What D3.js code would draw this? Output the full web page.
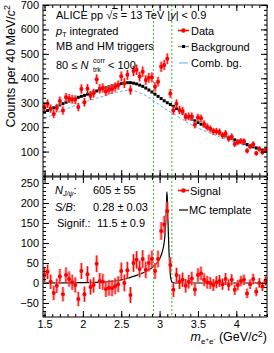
<!DOCTYPE html>
<html>
<head>
<meta charset="utf-8">
<script src="https://cdn.jsdelivr.net/npm/d3@7"></script>
<style>
  body { margin: 0; background: #fff; }
  text { font-family: "Liberation Sans", Arial, sans-serif; fill: #000; }
</style>
</head>
<body>
<svg id="chart" width="274" height="353"></svg>
<script>
// bin centres, 40 MeV/c2 bins from 1.48 to 4.40
var massBins = [1.50, 1.54, 1.58, 1.62, 1.66, 1.70, 1.74, 1.78, 1.82, 1.86, 1.90, 1.94,
    1.98, 2.02, 2.06, 2.10, 2.14, 2.18, 2.22, 2.26, 2.30, 2.34, 2.38, 2.42, 2.46, 2.50,
    2.54, 2.58, 2.62, 2.66, 2.70, 2.74, 2.78, 2.82, 2.86, 2.90, 2.94, 2.98, 3.02, 3.06,
    3.10, 3.14, 3.18, 3.22, 3.26, 3.30, 3.34, 3.38, 3.42, 3.46, 3.50, 3.54, 3.58, 3.62,
    3.66, 3.70, 3.74, 3.78, 3.82, 3.86, 3.90, 3.94, 3.98, 4.02, 4.06, 4.10, 4.14, 4.18,
    4.22, 4.26, 4.30, 4.34, 4.38];

var dataCounts = [282, 296, 276, 254, 278, 307, 268, 322, 317, 314, 312, 282,
    356, 302, 357, 329, 339, 396, 357, 360, 346, 353, 356, 364, 372, 408,
    380, 414, 352, 430, 435, 407, 427, 393, 402, 404, 365, 386, 447, 454,
    480, 338, 268, 296, 270, 266, 242, 244, 244, 210, 239, 236, 213, 201,
    193, 182, 183, 180, 166, 174, 153, 161, 131, 138, 143, 142, 103, 121,
    130, 93, 111, 97, 107];

var dataErr = [17, 17, 17, 17, 17, 18, 17, 18, 18, 18, 18, 17,
    19, 18, 19, 18, 18, 20, 19, 19, 19, 19, 19, 19, 19, 20,
    20, 20, 19, 21, 21, 20, 21, 20, 20, 20, 19, 20, 21, 21,
    22, 18, 17, 17, 17, 17, 16, 16, 16, 15, 16, 16, 15, 15,
    14, 14, 14, 14, 13, 14, 13, 13, 12, 12, 12, 12, 11, 11,
    12, 10, 11, 10, 10];

var bkgCounts = [262, 268, 273, 279, 285, 291, 296, 302, 307, 312, 317, 322,
    326, 330, 335, 339, 344, 348, 352, 357, 361, 365, 369, 372, 375, 378,
    380, 382, 382, 380, 377, 372, 367, 360, 352, 344, 335, 326, 317, 308,
    300, 293, 285, 276, 267, 258, 249, 241, 233, 226, 219, 212, 205, 199,
    193, 187, 181, 175, 169, 164, 158, 153, 148, 143, 138, 134, 129, 124,
    120, 115, 111, 106, 102];

var combCounts = [236, 242, 247, 253, 258, 264, 269, 274, 279, 284, 289, 293,
    297, 301, 306, 310, 314, 318, 322, 326, 330, 334, 338, 341, 344, 347,
    349, 351, 351, 349, 346, 341, 336, 329, 321, 313, 304, 295, 286, 277,
    269, 262, 255, 247, 239, 231, 223, 216, 209, 203, 197, 191, 185, 180,
    175, 170, 165, 160, 155, 151, 146, 142, 138, 134, 130, 126, 122, 118,
    114, 110, 106, 101, 97];

var signalCounts = [20, 28, 3, -25, -7, 16, -28, 20, 10, 2, -5, -40,
    30, -28, 22, -10, -5, 48, 5, 3, -15, -12, -13, -8, -3, 30,
    0, 32, -30, 50, 58, 35, 60, 33, 50, 60, 30, 60, 130, 146,
    180, 45, -17, 20, 3, 8, -7, 3, 11, -16, 20, 24, 8, 2,
    0, -5, 2, 5, -3, 10, -5, 8, -17, -5, 5, 8, -26, -3,
    10, -22, 0, -9, 5];

var signalErr = [18, 18, 18, 18, 18, 19, 18, 19, 19, 19, 19, 18,
    20, 19, 20, 19, 19, 21, 20, 20, 20, 20, 20, 20, 20, 21,
    21, 21, 20, 22, 22, 21, 22, 21, 21, 21, 20, 21, 22, 22,
    23, 19, 18, 18, 18, 18, 17, 17, 17, 16, 17, 17, 16, 16,
    15, 15, 15, 15, 14, 15, 14, 14, 13, 13, 13, 13, 12, 12,
    13, 11, 12, 11, 11];

// MC line shape (mass, counts)
var mcMass = [1.48, 2.0, 2.3, 2.5, 2.6, 2.7, 2.8, 2.9, 2.95, 3.0, 3.03, 3.05, 3.07,
    3.08, 3.09, 3.095, 3.10, 3.11, 3.12, 3.13, 3.14, 3.15, 3.17, 3.2, 4.4];
var mcCounts = [0, 1, 3, 8, 13, 19, 27, 38, 47, 60, 75, 90, 120,
    150, 200, 228, 215, 150, 90, 45, 20, 8, 1, 0, 0];

var windowEdges = [2.92, 3.16];

var topTicks = [100, 200, 300, 400, 500, 600, 700];
var botTicks = [-50, 0, 50, 100, 150, 200, 250];
var xTicks = [1.5, 2, 2.5, 3, 3.5, 4];

var svg = d3.select("#chart");
var left = 43, right = 267;
var topPad = { y0: 5, y1: 176 }, botPad = { y0: 177, y1: 317 };

var x = d3.scaleLinear().domain([1.48, 4.40]).range([left, right]);
var yTop = d3.scaleLinear().domain([0, 700]).range([topPad.y1, topPad.y0]);
var yBot = d3.scaleLinear().domain([-85, 265]).range([botPad.y1, botPad.y0]);

var red = "#ff0000", green = "#33bb33", blue = "#66aaee";

function frameAxes(y, pad, majors, minorStep, showX) {
    var yMin = d3.range(Math.ceil(y.domain()[0] / minorStep) * minorStep, y.domain()[1] + 0.01, minorStep);
    var xMin = d3.range(1.5, 4.41, 0.1);
    var g = svg.append("g");
    g.append("g").attr("transform", "translate(" + left + ",0)")
        .call(d3.axisLeft(y).tickValues(majors).tickSize(-6).tickPadding(4).tickFormat(d3.format("d")));
    g.append("g").attr("transform", "translate(" + left + ",0)")
        .call(d3.axisLeft(y).tickValues(yMin).tickSize(-3).tickFormat(""));
    g.append("g").attr("transform", "translate(" + right + ",0)")
        .call(d3.axisRight(y).tickValues(majors).tickSize(-6).tickFormat(""));
    g.append("g").attr("transform", "translate(" + right + ",0)")
        .call(d3.axisRight(y).tickValues(yMin).tickSize(-3).tickFormat(""));
    g.append("g").attr("transform", "translate(0," + pad.y1 + ")")
        .call(d3.axisBottom(x).tickValues(xTicks).tickSize(-6).tickPadding(3)
            .tickFormat(showX ? d3.format("") : ""));
    g.append("g").attr("transform", "translate(0," + pad.y1 + ")")
        .call(d3.axisBottom(x).tickValues(xMin).tickSize(-3).tickFormat(""));
    g.append("g").attr("transform", "translate(0," + pad.y0 + ")")
        .call(d3.axisTop(x).tickValues(xTicks).tickSize(-6).tickFormat(""));
    g.append("g").attr("transform", "translate(0," + pad.y0 + ")")
        .call(d3.axisTop(x).tickValues(xMin).tickSize(-3).tickFormat(""));
    g.selectAll(".domain").remove();
    g.selectAll("text").attr("font-size", 11).style("font-family", "'Liberation Sans', Arial, sans-serif");
    g.append("rect").attr("x", left).attr("y", pad.y0)
        .attr("width", right - left).attr("height", pad.y1 - pad.y0)
        .attr("fill", "none").attr("stroke", "#000");
}

function windowLines(pad) {
    svg.selectAll(null).data(windowEdges).enter().append("line")
        .attr("x1", d => x(d)).attr("x2", d => x(d))
        .attr("y1", pad.y0).attr("y2", pad.y1)
        .attr("stroke", green).attr("stroke-width", 1).attr("stroke-dasharray", "2,2");
}

function redPoints(values, errs, y) {
    var g = svg.append("g");
    var pts = massBins.map((m, i) => ({ m: m, v: values[i], e: errs[i] }));
    g.selectAll("rect.band").data(pts).enter().append("rect")
        .attr("x", d => x(d.m) - 1.5).attr("width", 3)
        .attr("y", d => y(d.v + d.e)).attr("height", d => y(d.v - d.e) - y(d.v + d.e))
        .attr("fill", "#ff8080").attr("opacity", 0.7);
    g.selectAll("line.err").data(pts).enter().append("line")
        .attr("x1", d => x(d.m)).attr("x2", d => x(d.m))
        .attr("y1", d => y(d.v + d.e)).attr("y2", d => y(d.v - d.e))
        .attr("stroke", red).attr("stroke-width", 1);
    g.selectAll("circle").data(pts).enter().append("circle")
        .attr("cx", d => x(d.m)).attr("cy", d => y(d.v)).attr("r", 2)
        .attr("fill", red);
}

// ---- top panel ----
windowLines(topPad);

svg.append("path").datum(massBins.map((m, i) => [m, combCounts[i]]))
    .attr("d", d3.line().x(d => x(d[0])).y(d => yTop(d[1])))
    .attr("fill", "none").attr("stroke", blue).attr("stroke-width", 1)
    .attr("stroke-dasharray", "3,2");

svg.append("g").selectAll("rect").data(massBins.map((m, i) => [m, bkgCounts[i]]))
    .enter().append("rect")
    .attr("x", d => x(d[0]) - 1.5).attr("y", d => yTop(d[1]) - 1.5)
    .attr("width", 3).attr("height", 3).attr("fill", "#000");

redPoints(dataCounts, dataErr, yTop);
frameAxes(yTop, topPad, topTicks, 20, false);

// ---- bottom panel ----
windowLines(botPad);
svg.append("path").datum(mcMass.map((m, i) => [m, mcCounts[i]]))
    .attr("d", d3.line().curve(d3.curveMonotoneX).x(d => x(d[0])).y(d => yBot(d[1])))
    .attr("fill", "none").attr("stroke", "#000").attr("stroke-width", 1.2);
redPoints(signalCounts, signalErr, yBot);
frameAxes(yBot, botPad, botTicks, 10, true);

// ---- axis titles ----
var yt = svg.append("text").attr("transform", "translate(15,5) rotate(-90)")
    .attr("text-anchor", "end").attr("font-size", 12.5);
yt.append("tspan").text("Counts per 40 MeV/");
yt.append("tspan").attr("font-style", "italic").text("c");
yt.append("tspan").attr("font-size", 9).attr("dy", -5).text("2");

var xt = svg.append("text").attr("x", right).attr("y", 341)
    .attr("text-anchor", "end").attr("font-size", 12.5);
xt.append("tspan").attr("font-style", "italic").text("m");
xt.append("tspan").attr("font-size", 8).attr("dy", 3).text("e");
xt.append("tspan").attr("font-size", 6).attr("dy", -3).text("+");
xt.append("tspan").attr("font-size", 8).attr("dy", 3).text("e");
xt.append("tspan").attr("font-size", 6).attr("dy", -3).text("-");
xt.append("tspan").attr("dy", 0).text(" (GeV/");
xt.append("tspan").attr("font-style", "italic").text("c");
xt.append("tspan").attr("font-size", 9).attr("dy", -4).text("2");
xt.append("tspan").attr("dy", 4).text(")");

// ---- top texts ----
var t1 = svg.append("text").attr("x", 56).attr("y", 19).attr("font-size", 11);
t1.append("tspan").text("ALICE pp ");
t1.append("tspan").text("\u221A");
t1.append("tspan").attr("font-style", "italic").attr("text-decoration", "overline").text("s");
t1.append("tspan").text(" = 13 TeV |");
t1.append("tspan").attr("font-style", "italic").text("y");
t1.append("tspan").text("| < 0.9");

var t2 = svg.append("text").attr("x", 56).attr("y", 35).attr("font-size", 11);
t2.append("tspan").attr("font-style", "italic").text("p");
t2.append("tspan").attr("font-size", 7).attr("dy", 2).text("T");
t2.append("tspan").attr("dy", -2).text(" integrated");

svg.append("text").attr("x", 56).attr("y", 50).attr("font-size", 11).text("MB and HM triggers");

var t4 = svg.append("text").attr("x", 56).attr("y", 69).attr("font-size", 11);
t4.append("tspan").text("80 \u2264 ");
t4.append("tspan").attr("font-style", "italic").text("N");
svg.append("text").attr("x", 93).attr("y", 72).attr("font-size", 7).text("trk");
svg.append("text").attr("x", 93).attr("y", 63).attr("font-size", 7).text("corr");
svg.append("text").attr("x", 108).attr("y", 69).attr("font-size", 11).text("< 100");

// legend top
svg.append("line").attr("x1", 178).attr("x2", 189).attr("y1", 30.5).attr("y2", 30.5)
    .attr("stroke", red).attr("stroke-width", 1.5);
svg.append("circle").attr("cx", 183.5).attr("cy", 30.5).attr("r", 2.2).attr("fill", red);
svg.append("text").attr("x", 191).attr("y", 34.5).attr("font-size", 11).text("Data");
svg.append("line").attr("x1", 178).attr("x2", 189).attr("y1", 46.5).attr("y2", 46.5)
    .attr("stroke", "#888").attr("stroke-width", 1.5);
svg.append("rect").attr("x", 182).attr("y", 45).attr("width", 3).attr("height", 3).attr("fill", "#000");
svg.append("text").attr("x", 191).attr("y", 50.5).attr("font-size", 11).text("Background");
svg.append("line").attr("x1", 179).attr("x2", 188).attr("y1", 63).attr("y2", 63)
    .attr("stroke", blue).attr("stroke-width", 1);
svg.append("text").attr("x", 191).attr("y", 67).attr("font-size", 11).text("Comb. bg.");

// ---- bottom texts ----
var b1 = svg.append("text").attr("x", 55).attr("y", 194).attr("font-size", 11);
b1.append("tspan").attr("font-style", "italic").text("N");
b1.append("tspan").attr("font-size", 7).attr("dy", 2).attr("font-style", "italic").text("J/\u03C8");
b1.append("tspan").attr("dy", -2).text(":");
svg.append("text").attr("x", 93).attr("y", 194).attr("font-size", 11).text("605 \u00B1 55");

var b2 = svg.append("text").attr("x", 55).attr("y", 211).attr("font-size", 11);
b2.append("tspan").attr("font-style", "italic").text("S/B");
b2.append("tspan").text(":");
svg.append("text").attr("x", 93).attr("y", 211).attr("font-size", 11).text("0.28 \u00B1 0.03");

svg.append("text").attr("x", 57).attr("y", 227).attr("font-size", 11).text("Signif.:");
svg.append("text").attr("x", 97).attr("y", 227).attr("font-size", 11).text("11.5 \u00B1 0.9");

svg.append("line").attr("x1", 178).attr("x2", 189).attr("y1", 190.5).attr("y2", 190.5)
    .attr("stroke", red).attr("stroke-width", 1.5);
svg.append("circle").attr("cx", 183.5).attr("cy", 190.5).attr("r", 2.2).attr("fill", red);
svg.append("text").attr("x", 190).attr("y", 194.5).attr("font-size", 11).text("Signal");
svg.append("line").attr("x1", 179).attr("x2", 188).attr("y1", 210).attr("y2", 210)
    .attr("stroke", "#000").attr("stroke-width", 1.2);
svg.append("text").attr("x", 189).attr("y", 214).attr("font-size", 11).text("MC template");
</script>
</body>
</html>
